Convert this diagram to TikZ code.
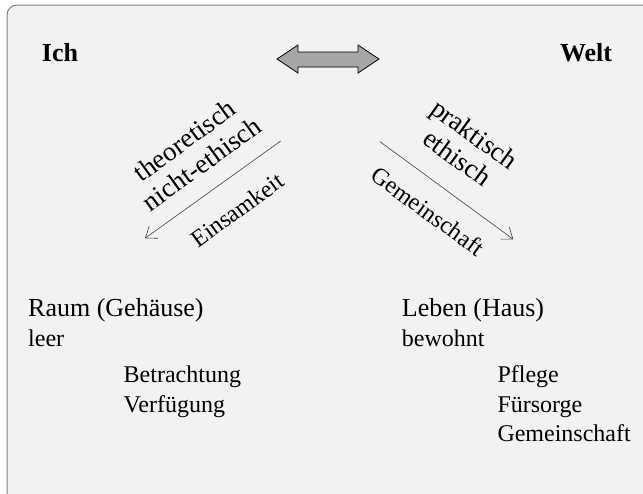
\documentclass[tikz,border=0pt]{standalone}
\usepackage{fontspec}
\setmainfont{Liberation Serif}
\usepackage{xcolor}
\usetikzlibrary{arrows.meta}
\usetikzlibrary{positioning}
\definecolor{panel}{HTML}{F2F2F2}
\definecolor{framegray}{HTML}{7F7F7F}
\definecolor{arrowgray}{HTML}{A6A6A6}
\tikzset{
	pole/.style={font=\fontsize{26}{30}\selectfont\bfseries, inner sep=0pt, anchor=base},
	head/.style={font=\fontsize{26}{30}\selectfont, inner sep=0pt, anchor=base west},
	item/.style={font=\fontsize{24}{29}\selectfont, inner sep=0pt, anchor=base west},
	slant/.style={font=\fontsize{27}{29}\selectfont, inner sep=0pt, align=center},
	slantone/.style={font=\fontsize{24}{29}\selectfont, inner sep=0pt},
	thinarrow/.style={draw=black!75, line width=0.6pt, -{Straight Barb[length=10pt,width=15pt]}},
}

\begin{document}
\begin{tikzpicture}[x=1pt, y=-1pt]
	\useasboundingbox (0,0) rectangle (643,493);
	\fill[white] (0,0) rectangle (643,493);
	% draw panel
	\filldraw[fill=panel, draw=framegray, line width=1pt, rounded corners=10pt] (7,5) rectangle (653,503);
	
	% the two poles
	\node[pole] (ich) at (60,61) {Ich};
	\node[pole] (welt) at (586,61) {Welt};
	\filldraw[fill=arrowgray, draw=black, line width=0.8pt] (277,59) -- (298,45) -- (298,52) -- (358,52) -- (358,45) -- (379,59) -- (358,73) -- (358,67) -- (298,67) -- (298,73) -- cycle;
	
	% left way
	\coordinate (lstart) at (280.7,141);
	\coordinate (lend) at (145,238.3);
	\draw[thinarrow] (lstart) -- (lend);
	\node[slant, rotate=36] (theo) at (193,152) {theoretisch\\nicht-ethisch};
	\node[slantone, rotate=36] (einsam) at (237,210) {Einsamkeit};
	
	% right way
	\coordinate (rstart) at (380,141.7);
	\coordinate (rend) at (513.3,239.3);
	\draw[thinarrow] (rstart) -- (rend);
	\node[slant, rotate=-36] (prak) at (466,146) {praktisch\\ethisch};
	\node[slantone, rotate=-36] (gemein) at (428,211) {Gemeinschaft};
	
	% lower texts
	\node[head] (raum) at (28,316) {Raum (Gehäuse)};
	\node[item] (leer) at (28,346.7) {leer};
	\node[item] (betr) at (123.5,382.5) {Betrachtung};
	\node[item] (verf) at (123.5,412) {Verfügung};
	
	\node[head] (leben) at (401.7,316) {Leben (Haus)};
	\node[item] (bewohnt) at (401.7,346.7) {bewohnt};
	\node[item] (pflege) at (497.3,382.5) {Pflege};
	\node[item] (fuers) at (497.3,412) {Fürsorge};
	\node[item] (gemeinsch) at (497.3,441.7) {Gemeinschaft};
\end{tikzpicture}
\end{document}
